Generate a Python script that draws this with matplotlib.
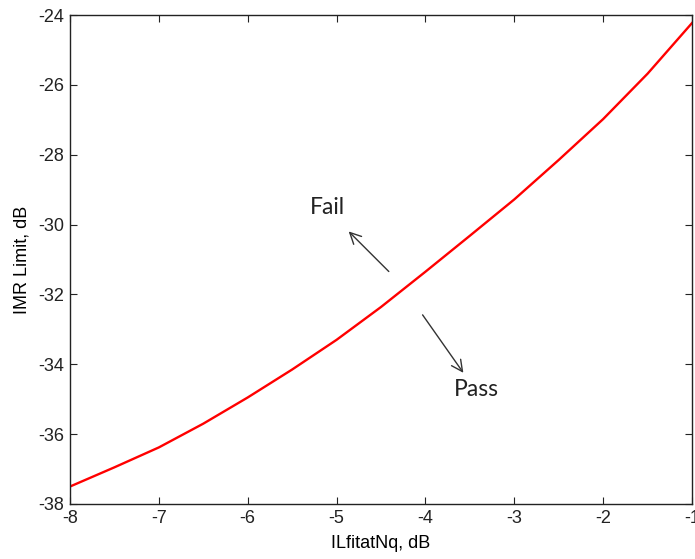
"""
IMR limit vs ILfitatNq, MATLAB-style look
"""
import matplotlib
matplotlib.use("Agg")
import matplotlib.pyplot as plt

# values
il_fit = [-8.0, -7.5, -7.0, -6.5, -6.0, -5.5, -5.0, -4.5, -4.0, -3.5, -3.0, -2.5, -2.0, -1.5, -1.0]
imr_limit = [-37.50, -36.95, -36.38, -35.70, -34.95, -34.15, -33.30, -32.36, -31.35,
             -30.32, -29.28, -28.15, -26.98, -25.68, -24.23]

x_ticks = [-8, -7, -6, -5, -4, -3, -2, -1]
y_ticks = [-38, -36, -34, -32, -30, -28, -26, -24]

tick_font = ['Liberation Sans Narrow', 'Liberation Sans', 'DejaVu Sans']
note_font = ['Lato', 'DejaVu Sans']

fig = plt.figure(figsize=(6.95, 5.59), dpi=100)
ax = fig.add_axes([70 / 695, 1 - 504 / 559, 622 / 695, 489 / 559])

ax.plot(il_fit, imr_limit, color='red', linewidth=1.7)

ax.set_xlim(-8, -1)
ax.set_ylim(-38, -24)
ax.set_xticks(x_ticks)
ax.set_yticks(y_ticks)
ax.set_xticklabels([str(v) for v in x_ticks], family=tick_font, fontsize=13)
ax.set_yticklabels([str(v) for v in y_ticks], family=tick_font, fontsize=13)
ax.tick_params(direction='in', length=5, width=0.8, top=True, right=True, pad=4, colors='#222222')
for s in ax.spines.values():
    s.set_linewidth(1.0)
    s.set_color('#222222')

ax.set_xlabel('ILfitatNq, dB', family=tick_font, fontsize=13, labelpad=6)
ax.set_ylabel('IMR Limit, dB', family=tick_font, fontsize=13, labelpad=6)

# pass / fail annotations
arrow = dict(arrowstyle='->', color='#333333', lw=1.0, mutation_scale=20)
ax.annotate('', xy=(-4.886, -30.14), xytext=(-4.39, -31.40), arrowprops=arrow)
ax.annotate('', xy=(-3.555, -34.31), xytext=(-4.05, -32.52), arrowprops=arrow)
ax.text(-5.10, -29.50, 'Fail', family=note_font, fontsize=16.5, ha='center', va='center', color='#222222')
ax.text(-3.43, -34.71, 'Pass', family=note_font, fontsize=16.5, ha='center', va='center', color='#222222')

fig.savefig('out.png', dpi=100)
